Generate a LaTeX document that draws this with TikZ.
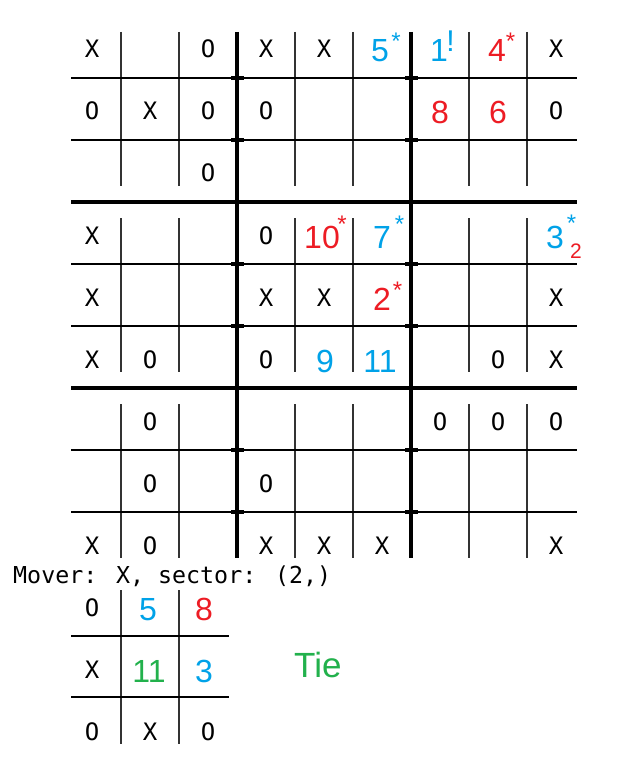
\documentclass[tikz,border=0pt]{standalone}
\usepackage{fontspec}
\newfontfamily\monof{DejaVu Sans Mono}
\newfontfamily\sansf{Liberation Sans}
\definecolor{pblue}{HTML}{00A2E8}
\definecolor{pred}{HTML}{ED1C24}
\definecolor{pgreen}{HTML}{22B14C}
\begin{document}
\begin{tikzpicture}[x=1pt,y=-1pt,
  mk/.style={font=\monof\fontsize{24}{24}\selectfont, anchor=base, inner sep=0pt},
  num/.style={font=\sansf\fontsize{32}{32}\selectfont, anchor=base, inner sep=0pt},
  supm/.style={font=\sansf\fontsize{24}{24}\selectfont, anchor=base, inner sep=0pt},
  bang/.style={font=\sansf\fontsize{30}{30}\selectfont, anchor=base, inner sep=0pt},
  subm/.style={font=\sansf\fontsize{21}{21}\selectfont, anchor=base, inner sep=0pt},
  thinv/.style={line width=1.5pt, draw=black!80},
  thinh/.style={line width=2pt, draw=black},
  thickl/.style={line width=4pt, draw=black},
  blob/.style={fill=black, draw=none}]
\useasboundingbox (0,0) rectangle (616,770);
\fill[white] (0,0) rectangle (616,770);

% ---------- big board lines ----------
\foreach \gy in {32,218,404}{
  \foreach \vx in {121,179,295,353,469,527}{
    \draw[thinv] (\vx,\gy) -- (\vx,\gy+154);
  }
}
\foreach \hy in {78,140,264,326,450,512}{
  \draw[thinh] (71,\hy) -- (577,\hy);
  \foreach \vx in {237,411}{
    \fill[blob] (\vx-6.5,\hy-2.3) rectangle (\vx+6.5,\hy+2.3);
  }
}
\foreach \hy in {202,388}{
  \draw[thickl] (71,\hy) -- (577,\hy);
}
\foreach \vx in {237,411}{
  \draw[thickl] (\vx,32) -- (\vx,558);
}

% ---------- big board marks ----------
% row 1 (47)
\node[mk] (a11) at (92,58) {X};
\node[mk] (a13) at (208,58) {O};
\node[mk] (a14) at (266,58) {X};
\node[mk] (a15) at (324,58) {X};
\node[mk] (a19) at (556,58) {X};
% row 2 (109)
\node[mk] (a21) at (92,120) {O};
\node[mk] (a22) at (150,120) {X};
\node[mk] (a23) at (208,120) {O};
\node[mk] (a24) at (266,120) {O};
\node[mk] (a29) at (556,120) {O};
% row 3 (171)
\node[mk] (a33) at (208,182) {O};
% row 4 (233)
\node[mk] (a41) at (92,244) {X};
\node[mk] (a44) at (266,244) {O};
% row 5 (295)
\node[mk] (a51) at (92,306) {X};
\node[mk] (a54) at (266,306) {X};
\node[mk] (a55) at (324,306) {X};
\node[mk] (a59) at (556,306) {X};
% row 6 (357)
\node[mk] (a61) at (92,368) {X};
\node[mk] (a62) at (150,368) {O};
\node[mk] (a64) at (266,368) {O};
\node[mk] (a68) at (498,368) {O};
\node[mk] (a69) at (556,368) {X};
% row 7 (419)
\node[mk] (a72) at (150,430) {O};
\node[mk] (a77) at (440,430) {O};
\node[mk] (a78) at (498,430) {O};
\node[mk] (a79) at (556,430) {O};
% row 8 (481)
\node[mk] (a82) at (150,492) {O};
\node[mk] (a84) at (266,492) {O};
% row 9 (543)
\node[mk] (a91) at (92,554) {X};
\node[mk] (a92) at (150,554) {O};
\node[mk] (a94) at (266,554) {X};
\node[mk] (a95) at (324,554) {X};
\node[mk] (a96) at (382,554) {X};
\node[mk] (a99) at (556,554) {X};

% ---------- big board numbers ----------
\node[num, text=pblue] (n16) at (380,62) {5};
\node[supm, text=pblue] (s16) at (396,49.5) {*};
\node[num, text=pblue] (n17) at (439,62) {1};
\node[bang, text=pblue] (s17) at (450.5,51.7) {!};
\node[num, text=pred] (n18) at (497,62) {4};
\node[supm, text=pred] (s18) at (510.5,50) {*};
\node[num, text=pred] (n27) at (440,124) {8};
\node[num, text=pred] (n28) at (498,124) {6};

\node[num, text=pred] (n45) at (322,248) {10};
\node[supm, text=pred] (s45) at (342,232) {*};
\node[num, text=pblue] (n46) at (382,248) {7};
\node[supm, text=pblue] (s46) at (399.5,232) {*};
\node[num, text=pblue] (n49) at (555,248) {3};
\node[supm, text=pblue] (s49) at (571.5,231.5) {*};
\node[subm, text=pred] (b49) at (576,258.3) {2};

\node[num, text=pred] (n56) at (382,310) {2};
\node[supm, text=pred] (s56) at (397.5,298) {*};

\node[num, text=pblue] (n65) at (325,372) {9};
\node[num, text=pblue] (n66) at (380,372) {11};

% ---------- caption ----------
\node[font=\monof\fontsize{23.3}{23.3}\selectfont, anchor=base west, inner sep=0pt] (cap) at (13,583) {Mover: X, sector: (2,)};

% ---------- small board ----------
\foreach \vx in {121,179}{
  \draw[thinv] (\vx,590) -- (\vx,744);
}
\foreach \hy in {636,697}{
  \draw[thinh] (71,\hy) -- (229,\hy);
}
\node[mk] (b11) at (92,616) {O};
\node[num, text=pblue] (b12) at (148,620) {5};
\node[num, text=pred] (b13) at (204,620) {8};
\node[mk] (b21) at (92,678) {X};
\node[num, text=pgreen] (b22) at (149,682) {11};
\node[num, text=pblue] (b23) at (204,682) {3};
\node[mk] (b31) at (92,740) {O};
\node[mk] (b32) at (150,740) {X};
\node[mk] (b33) at (208,740) {O};

\node[font=\sansf\fontsize{35}{35}\selectfont, text=pgreen, anchor=base west, inner sep=0pt] (tie) at (294,677) {Tie};
\end{tikzpicture}
\end{document}
